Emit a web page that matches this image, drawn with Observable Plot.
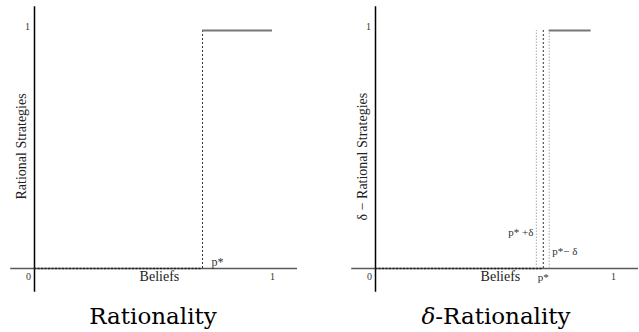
<!DOCTYPE html>
<html>
<head>
<meta charset="utf-8">
<script src="https://cdn.jsdelivr.net/npm/d3@7"></script>
<script src="https://cdn.jsdelivr.net/npm/@observablehq/plot@0.6"></script>
<style>
  html, body { margin: 0; padding: 0; background: #fff; }
  #wrap { position: relative; width: 639px; height: 332px; overflow: hidden; }
  .panel { position: absolute; top: 0; width: 320px; height: 332px; }
  .title { position: absolute; top: 300px; height: 32px; line-height: 32px; transform: translateX(-50%);
           font-family: "DejaVu Serif", serif; font-size: 23px; color: #000; white-space: nowrap; }
</style>
</head>
<body>
<div id="wrap"></div>
<script>
// ---- data ----
const titles = ["Rationality", "δ-Rationality"];
const yLabels = ["Rational Strategies", "δ − Rational Strategies"];
const xLabel = "Beliefs";
const pStar = [0.706, 0.705];          // threshold belief p*
const stepStart = [0.706, 0.730];      // where upper branch starts
const stepEnd = [1.0, 0.906];          // where upper branch ends
const deltaLines = [0.676, 0.730];     // p*+δ, p*−δ (right panel only)
const deltaLabels = ["p* +δ", "p*− δ"];
const xTicks = [0, 1];
const yTicks = [1];

// ---- layout helpers (pixel layout only) ----
const panelLeft = [0, 320];
const marginLeft = [34, 55];
const titleCenter = [153, 496];
const yLabelCenter = [0.513, 0.47];

const serif = "'Liberation Serif', 'Times New Roman', serif";
const wrap = document.getElementById("wrap");

for (let i = 0; i < 2; i++) {
  const lower = [{x1: 0, x2: pStar[i], y: 0}];
  const upper = [{x1: stepStart[i], x2: stepEnd[i], y: 1}];
  const marks = [
    // x axis line
    Plot.ruleY([0], {x1: -0.1, x2: 1.105, stroke: "#5a5a5a", strokeWidth: 1.5}),
    // y axis line
    Plot.ruleX([0], {y1: -0.1, y2: 1.1, stroke: "#000", strokeWidth: 1.5}),
    // lower branch dashed
    Plot.ruleY(lower, {x1: "x1", x2: "x2", y: "y", stroke: "#222", strokeWidth: 1.3, strokeDasharray: "2,1.5"}),
  ];
  if (i === 1) {
    marks.push(Plot.ruleX(deltaLines, {y1: 0, y2: 1, stroke: "#b8b8b8", strokeWidth: 1.2, strokeDasharray: "1.5,1.5"}));
  }
  marks.push(
    // vertical dashed at p*
    Plot.ruleX([pStar[i]], {y1: 0, y2: 1, stroke: "#333", strokeWidth: 1, strokeDasharray: "2,2"}),
    // upper branch
    Plot.ruleY(upper, {x1: "x1", x2: "x2", y: "y", stroke: "#777", strokeWidth: 2}),
    // tick labels
    Plot.text(xTicks.slice(0, 1), {x: d => d, frameAnchor: "bottom", dy: 11, dx: -6, text: d => String(d), fontFamily: serif, fontSize: 10, fill: "#333"}),
    Plot.text(xTicks.slice(1), {x: d => d, frameAnchor: "bottom", dy: 11, text: d => String(d), fontFamily: serif, fontSize: 10, fill: "#333"}),
    Plot.text(yTicks, {y: d => d, frameAnchor: "left", textAnchor: "middle", dx: -7, dy: -4, text: d => String(d), fontFamily: serif, fontSize: 10, fill: "#333"}),
    // axis titles
    Plot.text([xLabel], {x: 0.525, frameAnchor: "bottom", dy: 12, text: d => d, fontFamily: serif, fontSize: 14, fill: "#222"}),
    Plot.text([yLabels[i]], {y: yLabelCenter[i], frameAnchor: "left", textAnchor: "middle", dx: -13, rotate: -90, text: d => d, fontFamily: serif, fontSize: 14, fill: "#222"})
  );
  if (i === 0) {
    marks.push(Plot.text(["p*"], {x: pStar[i], y: 0, dx: 9, dy: -6, textAnchor: "start", text: d => d, fontFamily: serif, fontSize: 12, fill: "#333"}));
  } else {
    marks.push(
      Plot.text([deltaLabels[0]], {x: deltaLines[0], y: 0.15, dx: -3, textAnchor: "end", text: d => d, fontFamily: serif, fontSize: 11, fill: "#333"}),
      Plot.text([deltaLabels[1]], {x: deltaLines[1], y: 0.07, dx: 3, textAnchor: "start", text: d => d, fontFamily: serif, fontSize: 11, fill: "#333"}),
      Plot.text(["p*"], {x: pStar[i], y: 0, dy: 9, text: d => d, fontFamily: serif, fontSize: 11, fill: "#333"})
    );
  }
  const chart = Plot.plot({
    width: 320,
    height: 300,
    marginLeft: marginLeft[i],
    marginRight: 320 - marginLeft[i] - 238,
    marginTop: 30,
    marginBottom: 32,
    x: {domain: [0, 1], axis: null},
    y: {domain: [0, 1], axis: null},
    style: {background: "transparent", overflow: "visible", fontFamily: serif},
    marks
  });
  chart.style.overflow = "visible";
  const panel = document.createElement("div");
  panel.className = "panel";
  panel.style.left = panelLeft[i] + "px";
  panel.appendChild(chart);
  wrap.appendChild(panel);

  const t = document.createElement("div");
  t.className = "title";
  t.style.left = titleCenter[i] + "px";
  if (i === 1) {
    t.innerHTML = '<i>δ</i>-' + titles[i].slice(2);
  } else {
    t.textContent = titles[i];
  }
  wrap.appendChild(t);
}
</script>
</body>
</html>
